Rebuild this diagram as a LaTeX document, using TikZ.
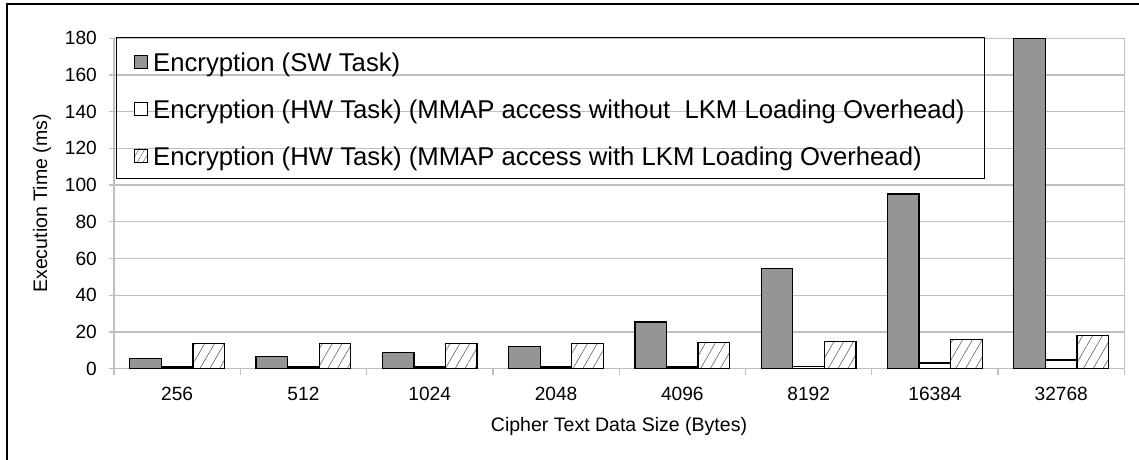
\documentclass[tikz,border=0pt]{standalone}
\usepackage{fontspec}
\setmainfont{Liberation Sans}
\usetikzlibrary{patterns.meta}
\definecolor{gridgray}{HTML}{C0C0C0}
\definecolor{swfill}{HTML}{959595}
\tikzset{
  grid line/.style={draw=gridgray, line width=1.3bp},
  bar/.style={draw=black, line width=1.3bp},
  sw bar/.style={bar, fill=swfill},
  hw bar/.style={bar, fill=white},
  lkm bar/.style={bar, fill=white, pattern={Lines[angle=60,distance=8.5bp,line width=0.5bp]}, pattern color=black!70},
  tick label/.style={font=\fontsize{19.2}{21}\selectfont, inner sep=0pt},
  axis title/.style={font=\fontsize{19.6}{22}\selectfont, inner sep=0pt},
  legend text/.style={font=\fontsize{25.8}{30}\selectfont, inner sep=0pt, anchor=base west},
  legend key/.style={draw=black, line width=0.9bp, minimum size=13bp, inner sep=0pt},
}
\begin{document}
\begin{tikzpicture}[x=1bp,y=1bp]
\useasboundingbox (0,0) rectangle (1139,460);
% outer frame of the chart area (right and bottom sides run off the page)
\begin{scope}
  \clip (0,0) rectangle (1139,460);
  \draw[line width=1.5bp] (7,-20) -- (7,456) -- (1160,456);
\end{scope}

% plot area: x in bp from the value axis, y in ms
\begin{scope}[shift={(114bp,91.3bp)}, x=1bp, y=1.836bp]
  % horizontal grid lines and value-axis ticks
  \foreach \v in {20,40,...,180}
    \draw[grid line] (0,\v) -- (1010.5,\v);
  \foreach \v in {0,20,...,180} {
    \draw[grid line] (-5.5,\v) -- (0,\v);
    \node[tick label, anchor=east] (ylab\v) at (-17,\v) {\v};
  }
  % axes and category ticks
  \draw[grid line] (0,0) -- (0,180);
  \draw[grid line] (1010.5,0) -- (1010.5,180);
  \draw[grid line] (0,0) -- (1010.5,0);
  \foreach \i in {0,...,8}
    \draw[grid line] ({126.3*\i},0) -- ++(0,-3.4);

  % bars: size / software / hardware without LKM / hardware with LKM
  \foreach \lab/\sw/\hw/\lkm [count=\i from 0] in
      {256/5.6/1.0/13.8, 512/6.5/1.0/13.8, 1024/8.9/1.0/13.7, 2048/12.2/1.0/13.8,
       4096/25.5/1.0/14.3, 8192/54.7/1.2/14.7, 16384/95.2/3.1/15.8, 32768/180/4.7/17.9} {
    \pgfmathsetmacro{\xa}{126.3*\i+15.7}
    \pgfmathsetmacro{\xb}{\xa+31.6}
    \pgfmathsetmacro{\xc}{\xb+31.6}
    \pgfmathsetmacro{\xd}{\xc+31.6}
    \draw[sw bar] (\xa,0) rectangle (\xb,\sw);
    \draw[hw bar] (\xb,0) rectangle (\xc,\hw);
    \draw[lkm bar] (\xc,0) rectangle (\xd,\lkm);
    \node[tick label, anchor=center, yshift=-25.3bp] (xlab\i) at ({126.3*\i+63.15},0) {\lab};
  }
\end{scope}

% axis titles
\node[axis title, rotate=90] (ytitle) at (42,256.5) {Execution Time (ms)};
\node[axis title] (xtitle) at (619,33.3) {Cipher Text Data Size (Bytes)};

% legend (no fill: the grid shows through)
\node[draw=black, line width=1bp, minimum width=868bp, minimum height=141bp, inner sep=0pt, anchor=north west] (legend) at (116,423) {};
\node[legend key, fill=swfill] (key1) at (140.5,398.5) {};
\node[legend key, fill=white] (key2) at (140.5,351.5) {};
\node[legend key, fill=white, pattern={Lines[angle=60,distance=5bp,line width=0.4bp]}, pattern color=black!70] (key3) at (140.5,304.5) {};
\node[legend text] (leg1) at (153,388.3) {Encryption (SW Task)};
\node[legend text] (leg2) at (153,341.3) {Encryption (HW Task) (MMAP access without\hspace{0.28em} LKM Loading Overhead)};
\node[legend text] (leg3) at (153,294.3) {Encryption (HW Task) (MMAP access with LKM Loading Overhead)};
\end{tikzpicture}
\end{document}
